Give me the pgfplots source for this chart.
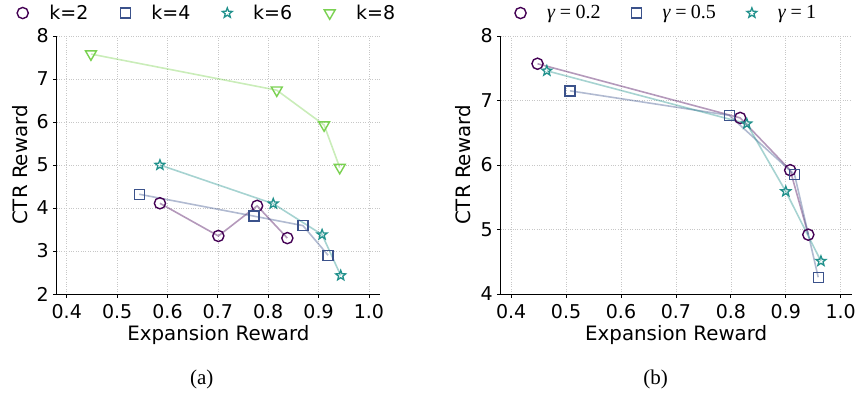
\documentclass[border=0pt]{standalone}
\usepackage{fontspec}
\setmainfont{Liberation Serif}
\newfontfamily\dejavu{DejaVu Sans}
\usepackage{pgfplots}
\pgfplotsset{compat=1.18}
\definecolor{c1}{HTML}{440154}
\definecolor{c2}{HTML}{3B528B}
\definecolor{c3}{HTML}{21918C}
\definecolor{c4}{HTML}{7AD151}
\pgfdeclareplotmark{ostar}{%
  \pgfpathmoveto{\pgfpointpolar{90}{\pgfplotmarksize}}%
  \pgfpathlineto{\pgfpointpolar{126}{0.42\pgfplotmarksize}}%
  \pgfpathlineto{\pgfpointpolar{162}{\pgfplotmarksize}}%
  \pgfpathlineto{\pgfpointpolar{198}{0.42\pgfplotmarksize}}%
  \pgfpathlineto{\pgfpointpolar{234}{\pgfplotmarksize}}%
  \pgfpathlineto{\pgfpointpolar{270}{0.42\pgfplotmarksize}}%
  \pgfpathlineto{\pgfpointpolar{306}{\pgfplotmarksize}}%
  \pgfpathlineto{\pgfpointpolar{342}{0.42\pgfplotmarksize}}%
  \pgfpathlineto{\pgfpointpolar{18}{\pgfplotmarksize}}%
  \pgfpathlineto{\pgfpointpolar{54}{0.42\pgfplotmarksize}}%
  \pgfpathclose
  \pgfusepathqstroke
}
\pgfplotsset{
  mystyle/.style={
    scale only axis,
    axis x line*=bottom, axis y line*=left,
    axis line style={-, line width=1bp, black},
    xtick pos=left, ytick pos=left,
    tick align=outside, major tick length=3.5bp,
    tick style={black, line width=0.8bp},
    grid=major, major grid style={dotted, black!22, line width=0.7bp},
    xtick={0.4,0.5,0.6,0.7,0.8,0.9,1.0},
    xticklabel style={/pgf/number format/.cd, fixed, fixed zerofill, precision=1, /tikz/.cd, yshift=-3.5bp},
    yticklabel style={xshift=-1bp},
    /pgf/number format/assume math mode=true,
    tick label style={font=\fontsize{19bp}{21bp}\dejavu},
    label style={font=\fontsize{19.8bp}{22bp}\dejavu},
    xlabel={Expansion Reward}, ylabel={CTR Reward},
    legend columns=4,
    legend image code/.code={\draw[##1] plot coordinates {(0bp,0bp)};},
    legend style={draw=none, fill=none, anchor=west, inner sep=0pt,
      nodes={inner sep=0pt},
      /tikz/every odd column/.append style={column sep=21bp},
      /tikz/every even column/.append style={column sep=32bp}},
  },
  p1/.style={color=c1, line width=1.6bp, draw opacity=0.4, mark=o, mark size=5.6bp, mark options={draw opacity=1, line width=1.4bp, solid}},
  p2/.style={color=c2, line width=1.6bp, draw opacity=0.4, mark=square, mark size=5bp, mark options={draw opacity=1, line width=1.4bp, solid}},
  p3/.style={color=c3, line width=1.6bp, draw opacity=0.4, mark=ostar, mark size=5.2bp, mark options={draw opacity=1, line width=1.3bp, solid}},
  p4/.style={color=c4, line width=1.6bp, draw opacity=0.4, mark=triangle, mark size=6.3bp, mark options={draw opacity=1, line width=1.4bp, solid, rotate=180}},
}
\begin{document}
\begin{tikzpicture}
\path[use as bounding box] (0,0) rectangle (858bp,398bp);
\begin{axis}[mystyle,
  at={(56.7bp,104bp)}, anchor=south west,
  width=323.3bp, height=258bp,
  xmin=0.38, xmax=1.022, ymin=2, ymax=8,
  ytick={2,3,4,5,6,7,8},
  xlabel style={at={(axis description cs:0.5,-0.159)}, anchor=center},
  ylabel style={at={(axis description cs:-0.1135,0.5)}, anchor=center},
  legend style={at={(axis description cs:-0.123,1.089)}, font=\fontsize{19bp}{21bp}\dejavu},
]
\addplot[p1] coordinates {(0.585,4.11) (0.701,3.35) (0.778,4.05) (0.838,3.30)};
\addlegendentry{k=2}
\addplot[p2] coordinates {(0.544,4.32) (0.772,3.81) (0.869,3.59) (0.919,2.90)};
\addlegendentry{k=4}
\addplot[p3] coordinates {(0.585,5.00) (0.810,4.10) (0.907,3.38) (0.944,2.43)};
\addlegendentry{k=6}
\addplot[p4] coordinates {(0.448,7.58) (0.817,6.74) (0.911,5.93) (0.942,4.94)};
\addlegendentry{k=8}
\end{axis}
\begin{axis}[mystyle,
  at={(500.7bp,104bp)}, anchor=south west,
  width=351bp, height=258bp,
  xmin=0.381, xmax=1.02, ymin=4, ymax=8,
  ytick={4,5,6,7,8},
  xlabel style={at={(axis description cs:0.5,-0.159)}, anchor=center},
  ylabel style={at={(axis description cs:-0.1066,0.5)}, anchor=center},
  legend style={at={(axis description cs:0.04,1.089)}, font=\fontsize{20bp}{22bp}\selectfont,
    /tikz/every even column/.append style={column sep=31bp}},
]
\addplot[p1] coordinates {(0.448,7.57) (0.817,6.73) (0.908,5.92) (0.941,4.92)};
\addlegendentry{\textit{γ}\hspace{0.22em}=\hspace{0.22em}0.2}
\addplot[p2] coordinates {(0.507,7.15) (0.797,6.77) (0.916,5.85) (0.959,4.26)};
\addlegendentry{\textit{γ}\hspace{0.22em}=\hspace{0.22em}0.5}
\addplot[p3] coordinates {(0.465,7.46) (0.829,6.64) (0.900,5.59) (0.964,4.51)};
\addlegendentry{\textit{γ}\hspace{0.22em}=\hspace{0.22em}1}
\end{axis}
\node[font=\fontsize{21bp}{24bp}\selectfont] at (201.7bp,19bp) {(a)};
\node[font=\fontsize{21bp}{24bp}\selectfont] at (655.5bp,19bp) {(b)};
\end{tikzpicture}
\end{document}
